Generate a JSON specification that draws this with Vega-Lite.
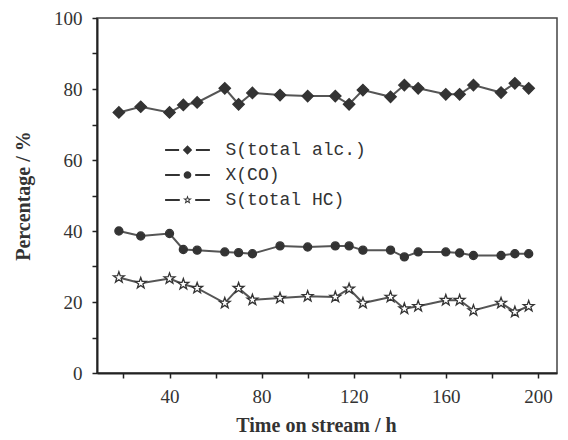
{
  "$schema": "https://vega.github.io/schema/vega-lite/v6.json",
  "width": 460,
  "height": 355,
  "autosize": {"type": "none"},
  "padding": {"left": 97, "top": 18, "right": 11, "bottom": 67},
  "background": "white",
  "config": {
    "view": {"stroke": "#444", "strokeWidth": 1.5},
    "axis": {
      "domainColor": "#222", "domainWidth": 2, "tickColor": "#222", "tickWidth": 1.5, "tickSize": 5,
      "labelFont": "Liberation Serif", "labelFontSize": 19, "labelColor": "#333",
      "titleFont": "Liberation Serif", "titleFontSize": 20, "titleFontWeight": "bold", "titleColor": "#333",
      "grid": false
    },
    "legend": {
      "title": null,
      "orient": "none", "legendX": 63, "legendY": 123,
      "padding": 0, "rowPadding": 7,
      "symbolSize": 49, "symbolStrokeWidth": 0, "symbolOffset": 18.5,
      "labelOffset": 29,
      "labelFont": "Liberation Mono", "labelFontSize": 18, "labelColor": "#333"
    }
  },
  "data": {
    "values": [
      {"t": 18, "series": "S(total alc.)", "v": 73.4},
      {"t": 27.5, "series": "S(total alc.)", "v": 75.0},
      {"t": 40, "series": "S(total alc.)", "v": 73.4},
      {"t": 46, "series": "S(total alc.)", "v": 75.5},
      {"t": 52, "series": "S(total alc.)", "v": 76.2},
      {"t": 64, "series": "S(total alc.)", "v": 80.2},
      {"t": 70, "series": "S(total alc.)", "v": 75.7},
      {"t": 76, "series": "S(total alc.)", "v": 78.9},
      {"t": 88, "series": "S(total alc.)", "v": 78.3},
      {"t": 100, "series": "S(total alc.)", "v": 78.0},
      {"t": 112, "series": "S(total alc.)", "v": 78.0},
      {"t": 118, "series": "S(total alc.)", "v": 75.7},
      {"t": 124, "series": "S(total alc.)", "v": 79.7},
      {"t": 136, "series": "S(total alc.)", "v": 77.8},
      {"t": 142, "series": "S(total alc.)", "v": 81.1},
      {"t": 148, "series": "S(total alc.)", "v": 80.2},
      {"t": 160, "series": "S(total alc.)", "v": 78.5},
      {"t": 166, "series": "S(total alc.)", "v": 78.5},
      {"t": 172, "series": "S(total alc.)", "v": 81.1},
      {"t": 184, "series": "S(total alc.)", "v": 79.0},
      {"t": 190, "series": "S(total alc.)", "v": 81.6},
      {"t": 196, "series": "S(total alc.)", "v": 80.2},
      {"t": 18, "series": "X(CO)", "v": 40.0},
      {"t": 27.5, "series": "X(CO)", "v": 38.6},
      {"t": 40, "series": "X(CO)", "v": 39.3},
      {"t": 46, "series": "X(CO)", "v": 34.8},
      {"t": 52, "series": "X(CO)", "v": 34.6},
      {"t": 64, "series": "X(CO)", "v": 34.1},
      {"t": 70, "series": "X(CO)", "v": 33.9},
      {"t": 76, "series": "X(CO)", "v": 33.6},
      {"t": 88, "series": "X(CO)", "v": 35.8},
      {"t": 100, "series": "X(CO)", "v": 35.5},
      {"t": 112, "series": "X(CO)", "v": 35.8},
      {"t": 118, "series": "X(CO)", "v": 35.8},
      {"t": 124, "series": "X(CO)", "v": 34.6},
      {"t": 136, "series": "X(CO)", "v": 34.6},
      {"t": 142, "series": "X(CO)", "v": 32.7},
      {"t": 148, "series": "X(CO)", "v": 34.1},
      {"t": 160, "series": "X(CO)", "v": 34.1},
      {"t": 166, "series": "X(CO)", "v": 33.8},
      {"t": 172, "series": "X(CO)", "v": 33.1},
      {"t": 184, "series": "X(CO)", "v": 33.1},
      {"t": 190, "series": "X(CO)", "v": 33.6},
      {"t": 196, "series": "X(CO)", "v": 33.6},
      {"t": 18, "series": "S(total HC)", "v": 26.9},
      {"t": 27.5, "series": "S(total HC)", "v": 25.3},
      {"t": 40, "series": "S(total HC)", "v": 26.6},
      {"t": 46, "series": "S(total HC)", "v": 25.0},
      {"t": 52, "series": "S(total HC)", "v": 23.9},
      {"t": 64, "series": "S(total HC)", "v": 19.7},
      {"t": 70, "series": "S(total HC)", "v": 23.9},
      {"t": 76, "series": "S(total HC)", "v": 20.6},
      {"t": 88, "series": "S(total HC)", "v": 21.1},
      {"t": 100, "series": "S(total HC)", "v": 21.6},
      {"t": 112, "series": "S(total HC)", "v": 21.4},
      {"t": 118, "series": "S(total HC)", "v": 23.7},
      {"t": 124, "series": "S(total HC)", "v": 19.7},
      {"t": 136, "series": "S(total HC)", "v": 21.4},
      {"t": 142, "series": "S(total HC)", "v": 18.1},
      {"t": 148, "series": "S(total HC)", "v": 18.8},
      {"t": 160, "series": "S(total HC)", "v": 20.5},
      {"t": 166, "series": "S(total HC)", "v": 20.5},
      {"t": 172, "series": "S(total HC)", "v": 17.6},
      {"t": 184, "series": "S(total HC)", "v": 19.7},
      {"t": 190, "series": "S(total HC)", "v": 17.2},
      {"t": 196, "series": "S(total HC)", "v": 18.8}
    ]
  },
  "encoding": {
    "x": {
      "field": "t", "type": "quantitative",
      "scale": {"domain": [8.5, 208.3], "nice": false, "zero": false},
      "axis": {
        "title": "Time on stream / h",
        "values": [20, 40, 60, 80, 100, 120, 140, 160, 180, 200],
        "labelExpr": "datum.value % 40 === 0 ? datum.label : ''",
        "labelPadding": 9, "titlePadding": 9, "labelFlush": false, "titleX": 219
      }
    },
    "y": {
      "field": "v", "type": "quantitative",
      "scale": {"domain": [0, 100], "nice": false},
      "axis": {
        "title": "Percentage / %",
        "values": [0, 10, 20, 30, 40, 50, 60, 70, 80, 90, 100],
        "labelExpr": "datum.value % 20 === 0 ? datum.label : ''",
        "labelPadding": 10, "titlePadding": 20, "labelFlush": false
      }
    }
  },
  "resolve": {"scale": {"shape": "independent"}, "legend": {"shape": "independent"}},
  "layer": [
    {
      "mark": {"type": "line", "color": "#555", "strokeWidth": 2},
      "encoding": {"detail": {"field": "series"}}
    },
    {
      "mark": {"type": "point", "filled": false, "stroke": "#333", "strokeWidth": 1.3, "opacity": 1, "size": 144},
      "encoding": {
        "shape": {
          "field": "series", "type": "nominal",
          "scale": {
            "domain": ["S(total alc.)", "X(CO)", "S(total HC)"],
            "range": [
              "M-0.95,0L0,-0.95L0.95,0L0,0.95Z",
              "M0.67,0A0.67,0.67,0,1,1,-0.67,0A0.67,0.67,0,1,1,0.67,0Z",
              "M0,-0.95L0.223,-0.308L0.903,-0.294L0.361,0.118L0.559,0.769L0,0.38L-0.559,0.769L-0.361,0.118L-0.903,-0.294L-0.223,-0.308Z"
            ]
          },
          "legend": null
        },
        "fill": {
          "field": "series", "type": "nominal",
          "scale": {"domain": ["S(total alc.)", "X(CO)", "S(total HC)"], "range": ["#333", "#333", "#ffffff"]},
          "legend": null
        }
      }
    },
    {
      "transform": [{"filter": "datum.v < 0"}],
      "mark": {"type": "point", "filled": true, "color": "#333", "size": 49, "opacity": 1, "strokeWidth": 0},
      "encoding": {
        "shape": {
          "field": "series", "type": "nominal",
          "scale": {
            "domain": ["S(total alc.)", "X(CO)", "S(total HC)"],
            "range": [
              "M-6.4,-0.29L-2.4,-0.29L-2.4,0.29L-6.4,0.29ZM2.4,-0.29L6.4,-0.29L6.4,0.29L2.4,0.29ZM-1.35,0L0,-1.35L1.35,0L0,1.35Z",
              "M-6.4,-0.29L-2.2,-0.29L-2.2,0.29L-6.4,0.29ZM2.2,-0.29L6.4,-0.29L6.4,0.29L2.2,0.29ZM1.1,0A1.1,1.1,0,1,1,-1.1,0A1.1,1.1,0,1,1,1.1,0Z",
              "M-6.4,-0.29L-2.2,-0.29L-2.2,0.29L-6.4,0.29ZM2.2,-0.29L6.4,-0.29L6.4,0.29L2.2,0.29ZM0,-1.35L0.317,-0.437L1.284,-0.417L0.513,0.167L0.794,1.092L0,0.54L-0.794,1.092L-0.513,0.167L-1.284,-0.417L-0.317,-0.437ZM0,-0.54L-0.127,-0.175L-0.514,-0.167L-0.205,0.067L-0.318,0.437L0,0.216L0.318,0.437L0.205,0.067L0.514,-0.167L0.127,-0.175Z"
            ]
          },
          "legend": {}
        }
      }
    }
  ]
}
